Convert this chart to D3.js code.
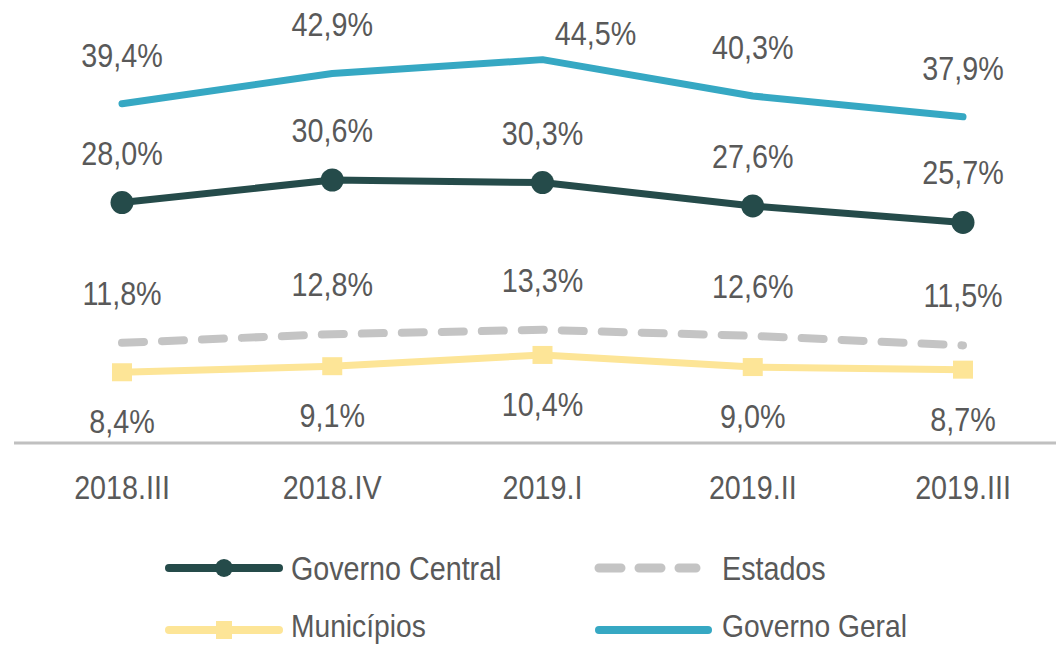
<!DOCTYPE html>
<html lang="pt">
<head>
    <meta charset="UTF-8">
    <title>Resultado</title>
    <script src="https://d3js.org/d3.v7.min.js"></script>
    <style>
        body { margin: 0; background: #fff; overflow: hidden; }
        text { font-family: "Liberation Sans", Arial, sans-serif; fill: #595959; }
    </style>
</head>
<body>
<svg id="chart" width="1056" height="646"></svg>
<script>
    const categories = ['2018.III', '2018.IV', '2019.I', '2019.II', '2019.III'];
    const governoCentral = [28.0, 30.6, 30.3, 27.6, 25.7];
    const estados = [11.8, 12.8, 13.3, 12.6, 11.5];
    const municipios = [8.4, 9.1, 10.4, 9.0, 8.7];
    const governoGeral = [39.4, 42.9, 44.5, 40.3, 37.9];

    const svg = d3.select('#chart');
    const fmt = v => d3.format('.1f')(v).replace('.', ',') + '%';

    const x = d3.scalePoint().domain(categories).range([122, 963]);
    const y = d3.scaleLinear().domain([0, 50]).range([445, 12]);

    // condensed text look: taller font squeezed horizontally
    function addText(parent, tx, ty, str, anchor, size, sx) {
        return parent.append('text')
            .attr('transform', `translate(${tx},${ty}) scale(${sx || 0.87},1)`)
            .attr('text-anchor', anchor || 'middle')
            .attr('font-size', (size || 33) + 'px')
            .text(str);
    }

    // base line
    svg.append('line')
        .attr('x1', 14).attr('x2', 1056)
        .attr('y1', 443).attr('y2', 443)
        .attr('stroke', '#c0c0c0').attr('stroke-width', 3);

    // category labels
    categories.forEach(c => addText(svg, x(c), 499, c));

    const series = [
        { name: 'Governo Central', values: governoCentral, color: '#254b4a', width: 7, dash: null, marker: 'circle', dy: -38 },
        { name: 'Estados', values: estados, color: '#c4c4c4', width: 8, dash: '22,18', marker: null, dy: -38 },
        { name: 'Municípios', values: municipios, color: '#fde597', width: 7, dash: null, marker: 'square', dy: 61 },
        { name: 'Governo Geral', values: governoGeral, color: '#36a8c3', width: 7, dash: null, marker: null, dy: -37 }
    ];

    const line = d3.line()
        .x((d, i) => x(categories[i]))
        .y(d => y(d));

    series.forEach(s => {
        const g = svg.append('g');
        g.append('path')
            .datum(s.values)
            .attr('d', line)
            .attr('fill', 'none')
            .attr('stroke', s.color)
            .attr('stroke-width', s.width)
            .attr('stroke-linecap', 'round')
            .attr('stroke-linejoin', 'round')
            .attr('stroke-dasharray', s.dash);

        if (s.marker === 'circle') {
            g.selectAll('circle')
                .data(s.values)
                .enter().append('circle')
                .attr('cx', (d, i) => x(categories[i]))
                .attr('cy', d => y(d))
                .attr('r', 11.5)
                .attr('fill', s.color);
        }
        if (s.marker === 'square') {
            g.selectAll('rect')
                .data(s.values)
                .enter().append('rect')
                .attr('x', (d, i) => x(categories[i]) - 10)
                .attr('y', d => y(d) - 9)
                .attr('width', 20)
                .attr('height', 18)
                .attr('fill', s.color);
        }

        s.values.forEach((v, i) => {
            const special = s.name === 'Governo Geral' && i === 2;
            addText(g, x(categories[i]) + (special ? 53 : 0), y(v) + (special ? -15 : s.dy), fmt(v));
        });
    });

    // legend
    const legend = [
        { s: series[0], x: 165, y: 568, len: 118 },
        { s: series[1], x: 595, y: 568, len: 105 },
        { s: series[2], x: 165, y: 630, len: 118 },
        { s: series[3], x: 595, y: 630, len: 117 }
    ];
    legend.forEach(l => {
        const g = svg.append('g');
        g.append('line')
            .attr('x1', l.x + 4).attr('x2', l.x + l.len - 4)
            .attr('y1', l.y).attr('y2', l.y)
            .attr('stroke', l.s.color)
            .attr('stroke-width', l.s.width + 1)
            .attr('stroke-linecap', 'round')
            .attr('stroke-dasharray', l.s.dash ? '22,18' : null);
        if (l.s.marker === 'circle') {
            g.append('circle').attr('cx', l.x + l.len / 2).attr('cy', l.y).attr('r', 9).attr('fill', l.s.color);
        }
        if (l.s.marker === 'square') {
            g.append('rect').attr('x', l.x + l.len / 2 - 8).attr('y', l.y - 9).attr('width', 16).attr('height', 18).attr('fill', l.s.color);
        }
        const bottom = l.y > 600;
        addText(g, l.x === 165 ? 291 : 722, l.y + (bottom ? 7 : 12), l.s.name, 'start', bottom ? 31 : 33, bottom ? 0.91 : 0.87);
    });
</script>
</body>
</html>
